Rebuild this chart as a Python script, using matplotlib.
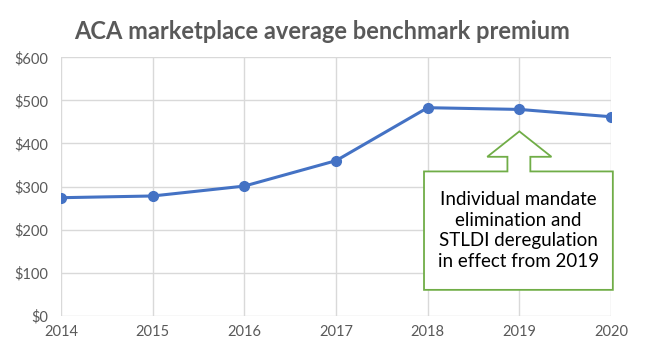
import matplotlib.pyplot as plt
from matplotlib.patches import Polygon

years = [2014, 2015, 2016, 2017, 2018, 2019, 2020]
premium = [274, 278, 301, 360, 483, 479, 462]
y_ticks = [0, 100, 200, 300, 400, 500, 600]
y_labels = ['$' + str(v) for v in y_ticks]
note = 'Individual mandate\nelimination and\nSTLDI deregulation\nin effect from 2019'

blue = '#4472C4'
green = '#70AD47'
grey = '#595959'

plt.rcParams['font.family'] = ['Lato', 'DejaVu Sans']

fig = plt.figure(figsize=(6.45, 3.56), dpi=100)
ax = fig.add_axes([0.0946, 0.1132, 0.8527, 0.7258])

ax.plot(years, premium, color=blue, lw=2.2, marker='o', ms=7, zorder=3)

ax.set_xlim(2014, 2020)
ax.set_ylim(0, 600)
ax.set_xticks(years)
ax.set_yticks(y_ticks)
ax.set_yticklabels(y_labels)
ax.tick_params(length=0, labelsize=10.5, colors=grey, pad=9)
ax.tick_params(axis='x', pad=7)
ax.grid(True, color='#D9D9D9', lw=1)
for s in ax.spines.values():
    s.set_visible(False)
ax.set_axisbelow(True)

# callout arrow + box (data coords)
shape = [(2018.65, 369), (2019.0, 428), (2019.35, 369), (2019.12, 369),
         (2019.12, 335), (2020.02, 335), (2020.02, 60), (2017.96, 60),
         (2017.96, 335), (2018.87, 335), (2018.87, 369)]
ax.add_patch(Polygon(shape, closed=True, facecolor='white', edgecolor=green,
                     lw=1.3, zorder=4, clip_on=False))
ax.text(2018.99, 198, note, ha='center', va='center', fontsize=13.5,
        linespacing=1.25, color='black', zorder=5)

fig.text(0.5, 0.912, 'ACA marketplace average benchmark premium',
         ha='center', va='center', fontsize=17, fontweight='bold', color=grey)

fig.savefig('out.png', dpi=100)
